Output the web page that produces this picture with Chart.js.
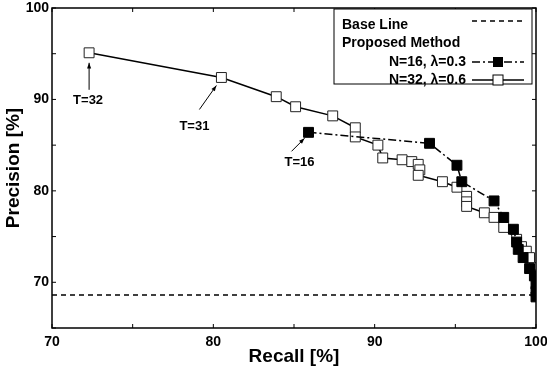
<!DOCTYPE html>
<html>
<head>
<meta charset="utf-8">
<script src="https://cdn.jsdelivr.net/npm/chart.js@4"></script>
<style>
html, body { margin: 0; padding: 0; background: #fff; }
</style>
</head>
<body>
<canvas id="chart" width="547" height="371"></canvas>
<script>
// N=32, lambda=0.6 (open squares)
var recall32 = [72.3, 80.5, 83.9, 85.1, 87.4, 88.8, 88.8, 90.2, 90.5, 91.7, 92.3, 92.7, 92.8, 92.7,
  94.2, 95.1, 95.7, 95.7, 95.7, 96.8, 97.4, 98.0, 98.8, 99.1, 99.4, 99.6, 99.9, 100];
var precision32 = [95.1, 92.4, 90.3, 89.2, 88.2, 86.9, 85.9, 85.0, 83.6, 83.4, 83.2, 82.9, 82.3, 81.7,
  81.0, 80.4, 79.4, 78.8, 78.3, 77.6, 77.1, 76.0, 74.7, 73.9, 73.4, 72.7, 71.6, 70.8];
// N=16, lambda=0.3 (filled squares)
var recall16 = [85.9, 93.4, 95.1, 95.4, 97.4, 98.0, 98.6, 98.8, 98.9, 99.2, 99.6, 99.9, 100, 100, 100];
var precision16 = [86.4, 85.2, 82.8, 81.0, 78.9, 77.1, 75.8, 74.4, 73.6, 72.7, 71.5, 70.7, 69.8, 69.0, 68.4];
var baseLine = 68.6;
var xLabelled = [70, 80, 90, 100];
var yLabelled = [70, 80, 90, 100];
var legendLabels = ["Base Line", "Proposed Method", "N=16, \u03bb=0.3", "N=32, \u03bb=0.6"];

function pts(xs, ys) {
  return xs.map(function (x, i) { return { x: x, y: ys[i] }; });
}

var boldFont = "bold 13px 'Liberation Sans', Arial, sans-serif";
var legendFont = "bold 14px 'Liberation Sans', Arial, sans-serif";

function arrow(ctx, x1, y1, x2, y2) {
  var a = Math.atan2(y2 - y1, x2 - x1);
  ctx.beginPath();
  ctx.moveTo(x1, y1);
  ctx.lineTo(x2, y2);
  ctx.stroke();
  ctx.beginPath();
  ctx.moveTo(x2, y2);
  ctx.lineTo(x2 - 6 * Math.cos(a - 0.35), y2 - 6 * Math.sin(a - 0.35));
  ctx.lineTo(x2 - 6 * Math.cos(a + 0.35), y2 - 6 * Math.sin(a + 0.35));
  ctx.closePath();
  ctx.fill();
}

var decor = {
  id: 'decor',
  afterDraw: function (chart) {
    var ctx = chart.ctx, a = chart.chartArea;
    var xs = chart.scales.x, ys = chart.scales.y;
    ctx.save();
    ctx.strokeStyle = '#000';
    ctx.fillStyle = '#000';
    // frame
    ctx.lineWidth = 1.5;
    ctx.strokeRect(a.left, a.top, a.right - a.left, a.bottom - a.top);
    // inward ticks
    ctx.lineWidth = 1;
    xs.ticks.forEach(function (t) {
      var px = xs.getPixelForValue(t.value);
      ctx.beginPath();
      ctx.moveTo(px, a.bottom); ctx.lineTo(px, a.bottom - 4);
      ctx.moveTo(px, a.top); ctx.lineTo(px, a.top + 4);
      ctx.stroke();
    });
    ys.ticks.forEach(function (t) {
      var py = ys.getPixelForValue(t.value);
      ctx.beginPath();
      ctx.moveTo(a.left, py); ctx.lineTo(a.left + 4, py);
      ctx.moveTo(a.right, py); ctx.lineTo(a.right - 4, py);
      ctx.stroke();
    });

    // annotations
    ctx.font = boldFont;
    ctx.textAlign = 'center';
    ctx.textBaseline = 'middle';
    ctx.lineWidth = 1;
    var p32 = { x: xs.getPixelForValue(recall32[0]), y: ys.getPixelForValue(precision32[0]) };
    arrow(ctx, p32.x, p32.y + 37, p32.x, p32.y + 10);
    ctx.fillText('T=32', p32.x - 1, p32.y + 48);
    var p31 = { x: xs.getPixelForValue(recall32[1]), y: ys.getPixelForValue(precision32[1]) };
    arrow(ctx, p31.x - 22, p31.y + 32, p31.x - 5, p31.y + 8);
    ctx.fillText('T=31', p31.x - 27, p31.y + 49);
    var p16 = { x: xs.getPixelForValue(recall16[0]), y: ys.getPixelForValue(precision16[0]) };
    arrow(ctx, p16.x - 17, p16.y + 19, p16.x - 4, p16.y + 6);
    ctx.fillText('T=16', p16.x - 9, p16.y + 30);

    // legend box
    var L = a.right - 202, T = a.top + 1, R = a.right - 4, B = a.top + 76;
    ctx.fillStyle = '#fff';
    ctx.fillRect(L, T, R - L, B - T);
    ctx.strokeStyle = '#000';
    ctx.lineWidth = 1;
    ctx.strokeRect(L, T, R - L, B - T);
    ctx.fillStyle = '#000';
    ctx.font = legendFont;
    ctx.textAlign = 'left';
    ctx.fillText(legendLabels[0], L + 8, T + 16);
    ctx.fillText(legendLabels[1], L + 8, T + 34);
    ctx.textAlign = 'right';
    ctx.fillText(legendLabels[2], L + 132, T + 53);
    ctx.fillText(legendLabels[3], L + 132, T + 71);
    var s0 = L + 138, s1 = R - 8, sm = (s0 + s1) / 2;
    ctx.lineWidth = 1.5;
    ctx.setLineDash([5, 4]);
    ctx.beginPath(); ctx.moveTo(s0, T + 12); ctx.lineTo(s1, T + 12); ctx.stroke();
    ctx.setLineDash([8, 3, 2, 3]);
    ctx.beginPath(); ctx.moveTo(s0, T + 53); ctx.lineTo(s1, T + 53); ctx.stroke();
    ctx.setLineDash([]);
    ctx.beginPath(); ctx.moveTo(s0, T + 71); ctx.lineTo(s1, T + 71); ctx.stroke();
    ctx.fillRect(sm - 5, T + 48, 10, 10);
    ctx.fillStyle = '#fff';
    ctx.fillRect(sm - 5, T + 66, 10, 10);
    ctx.lineWidth = 1;
    ctx.strokeRect(sm - 5, T + 66, 10, 10);
    ctx.restore();
  }
};

var tickFont = { family: "'Liberation Sans', Arial, sans-serif", size: 14, weight: 'bold' };
var titleFont = { family: "'Liberation Sans', Arial, sans-serif", size: 19, weight: 'bold' };

new Chart(document.getElementById('chart').getContext('2d'), {
  type: 'scatter',
  data: {
    datasets: [
      {
        label: 'Base Line',
        data: [{ x: 70, y: baseLine }, { x: 100, y: baseLine }],
        showLine: true,
        borderColor: '#000',
        borderWidth: 1.5,
        borderDash: [5, 4],
        pointRadius: 0,
        order: 3
      },
      {
        label: legendLabels[3],
        data: pts(recall32, precision32),
        showLine: true,
        borderColor: '#000',
        borderWidth: 1.5,
        pointStyle: 'rect',
        pointRadius: 7,
        pointBackgroundColor: '#fff',
        pointBorderColor: '#222',
        pointBorderWidth: 1,
        order: 2
      },
      {
        label: legendLabels[2],
        data: pts(recall16, precision16),
        showLine: true,
        borderColor: '#000',
        borderWidth: 1.5,
        borderDash: [8, 3, 2, 3],
        pointStyle: 'rect',
        pointRadius: 7,
        pointBackgroundColor: '#000',
        pointBorderColor: '#000',
        pointBorderWidth: 1,
        order: 1
      }
    ]
  },
  options: {
    responsive: false,
    animation: false,
    layout: { padding: { left: 0, top: 8, right: 11, bottom: 0 } },
    plugins: { legend: { display: false }, tooltip: { enabled: false } },
    scales: {
      x: {
        type: 'linear', min: 70, max: 100,
        grid: { display: false, drawTicks: false, tickLength: 0 },
        border: { display: false },
        ticks: {
          stepSize: 5, color: '#000', font: tickFont, padding: 6, maxRotation: 0,
          callback: function (v) { return xLabelled.indexOf(v) >= 0 ? v : ''; }
        },
        title: { display: true, text: 'Recall [%]', color: '#000', font: titleFont, padding: { top: 0, bottom: 3 } },
        afterFit: function (s) { s.height = 43; s.paddingLeft = 0; s.paddingRight = 0; }
      },
      y: {
        type: 'linear', min: 65, max: 100,
        grid: { display: false, drawTicks: false, tickLength: 0 },
        border: { display: false },
        ticks: {
          stepSize: 5, color: '#000', font: tickFont, padding: 3,
          callback: function (v) { return yLabelled.indexOf(v) >= 0 ? v : ''; }
        },
        title: { display: true, text: 'Precision [%]', color: '#000', font: titleFont, padding: { top: 2, bottom: 0 } },
        afterFit: function (s) { s.width = 52; s.paddingTop = 0; s.paddingBottom = 0; }
      }
    }
  },
  plugins: [decor]
});
</script>
</body>
</html>
